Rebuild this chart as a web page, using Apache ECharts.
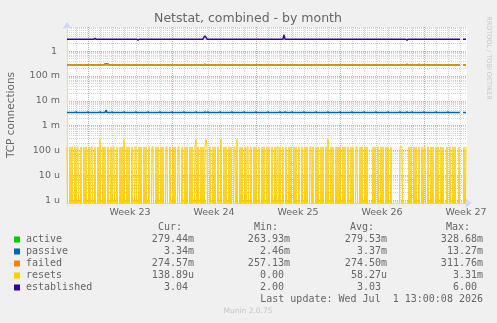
<!DOCTYPE html>
<html>
<head>
<meta charset="utf-8">
<script>
  // zrender drops polyline steps shorter than 2/dpr px, which eats the 1px bumps and the reset spikes.
  // raise the global ratio before echarts loads; the canvas itself is still created at ratio 1 below.
  window.devicePixelRatio = 8;
</script>
<script src="https://cdn.jsdelivr.net/npm/echarts@6/dist/echarts.min.js"></script>
<style>
html, body { margin: 0; padding: 0; background: #f0f0f0; }
#chart { width: 497px; height: 323px; }
</style>
</head>
<body>
<div id="chart"></div>
<script>
// x values are hours counted from monday 00:00 of week 23, one sample every 2 hours
var startHour = -42;
var stepHours = 2;
var endHour = 758;

var weekLabels = ['Week 23', 'Week 24', 'Week 25', 'Week 26', 'Week 27'];
var weekLabelHours = [84, 252, 420, 588, 756];
var weekStartHours = [0, 168, 336, 504, 672];

var yTickValues = [1e-6, 1e-5, 1e-4, 1e-3, 1e-2, 1e-1, 1];
var yTickLabels = ['1 u', '10 u', '100 u', '1 m', '10 m', '100 m', '1 '];

var seriesNames = ['active', 'passive', 'failed', 'resets', 'established'];
var seriesColors = ['#00cc00', '#0066b3', '#ff8000', '#ffcc00', '#330099'];
var curText = ['279.44m', '3.34m', '274.57m', '138.89u', '3.04 '];
var minText = ['263.93m', '2.46m', '257.13m', '0.00 ', '2.00 '];
var avgText = ['279.53m', '3.37m', '274.50m', '58.27u', '3.03 '];
var maxText = ['328.68m', '13.27m', '311.76m', '3.31m', '6.00 '];

// [hour, value] points ('-' = gap)
var activePoints = [[-42, 0.2794], [32, 0.2794], [34, 0.31], [40, 0.31], [42, 0.2794],
  [232, 0.2794], [234, 0.30], [236, 0.2794], [636, 0.2794], [638, 0.30], [640, 0.2794],
  [660, 0.2794], [662, 0.30], [664, 0.2794], [744, 0.2794], [746, '-'], [750, 0.2794], [756, 0.2794]];
var failedPoints = [[-42, 0.2746], [744, 0.2746], [746, '-'], [750, 0.2746], [756, 0.2746]];
var establishedPoints = [[-42, 3.04], [12, 3.04], [14, 3.3], [16, 3.04], [98, 3.04], [100, 2.75], [102, 3.04],
  [230, 3.04], [232, 3.7], [234, 4.1], [236, 3.6], [238, 3.04], [390, 3.04], [392, 4.5], [394, 3.04],
  [636, 3.04], [638, 2.75], [640, 3.04], [744, 3.04], [746, '-'], [750, 3.04], [756, 3.04]];

var passiveBase = 3.34e-3;
var passiveBumps = [[-24, 3.6e-3], [0, 3.6e-3], [24, 3.6e-3], [36, 4.2e-3], [48, 3.6e-3], [72, 3.6e-3],
  [96, 3.6e-3], [120, 3.6e-3], [144, 3.6e-3], [168, 3.6e-3], [192, 3.6e-3], [216, 3.6e-3],
  [234, 3.6e-3], [240, 3.6e-3], [264, 3.6e-3], [288, 3.6e-3], [312, 3.6e-3], [336, 3.6e-3],
  [360, 3.6e-3], [384, 3.6e-3], [394, 3.6e-3], [408, 3.6e-3], [432, 3.6e-3], [456, 3.6e-3],
  [480, 3.6e-3], [504, 3.6e-3], [528, 3.6e-3], [552, 3.6e-3], [576, 3.6e-3], [600, 3.6e-3],
  [624, 3.6e-3], [638, 3.6e-3], [648, 3.6e-3], [672, 3.6e-3], [696, 3.6e-3], [720, 3.6e-3]];

// resets per 2h slot, read column by column ('-' = no data)
var resetCounts = [
  '1001010010', '1100100101', '0010110010', '0102001010', '0100101100',
  '1001010200', '1010010011', '0010100101', '0010011001', '0100101001',
  '1001001010', '0110010010', '1001010012', '0100101012', '1001001010',
  '0100200101', '0010100110', '2001010010', '1100100101', '0010010100',
  '1010010010', '1101001001', '0010100101', '0010010010', '1001101001',
  '0100101001', '0200101001', '0101001010', '0100101001', '1001010010',
  '1000001010', '0100101001', '0100100000', '0001110000', '0010100101',
  '0010010110', '0100101001', '0100101000', '1001001010', '0010--0101'
].join('');
var resetLevels = { '0': 0, '1': 138.89e-6, '2': 277.78e-6 };

var yMin = 0.76e-6;
var yMax = 9.4;
var logFloor = 1e-9;   // zero drawn at the bottom like rrdtool

var passiveData = [[startHour, passiveBase]];
passiveBumps.forEach(function (b) {
  passiveData.push([b[0] - 2, passiveBase], [b[0], b[1]], [b[0] + 2, passiveBase]);
});
passiveData.push([744, passiveBase], [746, '-'], [750, passiveBase], [756, passiveBase]);

var resetsData = [];
for (var i = 0; i < resetCounts.length; i++) {
  var c = resetCounts[i];
  var v = c === '-' ? '-' : resetLevels[c];
  if (v === 0) v = logFloor;
  resetsData.push([startHour + i * stepHours, v]);
}

var dayHours = [];
for (var h = -24; h < endHour; h += 24) {
  if (weekStartHours.indexOf(h) < 0) dayHours.push(h);
}
var yMinorValues = [];
for (var d = 1e-7; d < 5; d *= 10) {
  for (var k = 2; k <= 9; k++) yMinorValues.push(d * k);
}

var axisColor = '#cfd6f8';
var fontColor = '#666';
var minorGrid = { show: true, lineStyle: { color: 'rgba(140,140,140,0.38)', width: 1, type: [1, 1] } };
var majorGrid = { show: true, lineStyle: { color: 'rgba(180,60,60,0.45)', width: 1, type: [1, 1] } };

var lineSeries = function (name, data, color, width, z) {
  return {
    name: name, type: 'line', data: data, showSymbol: false, symbol: 'none',
    lineStyle: { color: color, width: width }, itemStyle: { color: color },
    xAxisIndex: 0, yAxisIndex: 0, z: z, clip: true, animation: false, silent: true
  };
};

// legend block
var rowY = [239.5, 251.5, 263.5, 275.5, 287.5];
var mono = 'DejaVu Sans Mono';
var graphics = [
  { type: 'text', x: 248, y: 19, style: { text: 'Netstat, combined - by month', fill: fontColor, fontSize: 12.5, fontFamily: 'DejaVu Sans', align: 'center', verticalAlign: 'middle' } },
  { type: 'text', x: 11, y: 115, rotation: Math.PI / 2, style: { text: 'TCP connections', fill: fontColor, fontSize: 10.5, fontFamily: 'DejaVu Sans', align: 'center', verticalAlign: 'middle' } },
  { type: 'text', x: 489, y: 58, rotation: -Math.PI / 2, style: { text: 'RRDTOOL / TOBI OETIKER', fill: '#c8c8c8', fontSize: 6.5, fontFamily: 'DejaVu Sans', align: 'center', verticalAlign: 'middle' } },
  { type: 'text', x: 182, y: 227.5, style: { text: 'Cur:', fill: fontColor, fontSize: 10, fontFamily: mono, align: 'right', verticalAlign: 'middle' } },
  { type: 'text', x: 278, y: 227.5, style: { text: 'Min:', fill: fontColor, fontSize: 10, fontFamily: mono, align: 'right', verticalAlign: 'middle' } },
  { type: 'text', x: 374, y: 227.5, style: { text: 'Avg:', fill: fontColor, fontSize: 10, fontFamily: mono, align: 'right', verticalAlign: 'middle' } },
  { type: 'text', x: 470, y: 227.5, style: { text: 'Max:', fill: fontColor, fontSize: 10, fontFamily: mono, align: 'right', verticalAlign: 'middle' } },
  { type: 'text', x: 483, y: 299.5, style: { text: 'Last update: Wed Jul  1 13:00:08 2026', fill: fontColor, fontSize: 10, fontFamily: mono, align: 'right', verticalAlign: 'middle' } },
  { type: 'text', x: 248, y: 311.5, style: { text: 'Munin 2.0.75', fill: '#c4c4c4', fontSize: 7.5, fontFamily: 'DejaVu Sans', align: 'center', verticalAlign: 'middle' } }
];
seriesNames.forEach(function (name, r) {
  var y = rowY[r];
  graphics.push({ type: 'rect', shape: { x: 14, y: y - 3, width: 6, height: 6 }, style: { fill: seriesColors[r] } });
  graphics.push({ type: 'text', x: 26, y: y, style: { text: name, fill: fontColor, fontSize: 10, fontFamily: mono, align: 'left', verticalAlign: 'middle' } });
  [[194, curText], [290, minText], [387, avgText], [483, maxText]].forEach(function (col) {
    graphics.push({ type: 'text', x: col[0], y: y, style: { text: col[1][r], fill: fontColor, fontSize: 10, fontFamily: mono, align: 'right', verticalAlign: 'middle' } });
  });
});

var chart = echarts.init(document.getElementById('chart'), null, { devicePixelRatio: 1 });
chart.setOption({
  backgroundColor: '#f0f0f0',
  animation: false,
  grid: { left: 67, right: 30, top: 27, bottom: 120, show: true, backgroundColor: '#ffffff', borderWidth: 0 },
  xAxis: [
    {
      type: 'value', min: startHour, max: endHour,
      axisLine: { show: true, onZero: false, lineStyle: { color: axisColor, width: 1 }, symbol: ['none', 'arrow'], symbolSize: [7, 7], symbolOffset: [0, 5] },
      axisTick: { show: false, customValues: weekStartHours },
      splitLine: majorGrid,
      axisLabel: {
        customValues: weekLabelHours, margin: 5, color: fontColor, fontSize: 9.5, fontFamily: 'DejaVu Sans',
        formatter: function (v) { return weekLabels[weekLabelHours.indexOf(v)]; }
      }
    },
    {
      type: 'value', min: startHour, max: endHour, position: 'top',
      axisLine: { show: false, onZero: false }, axisLabel: { show: false },
      axisTick: { show: false, customValues: dayHours },
      splitLine: minorGrid
    }
  ],
  yAxis: [
    {
      type: 'log', logBase: 10, min: yMin, max: yMax,
      axisLine: { show: true, onZero: false, lineStyle: { color: axisColor, width: 1 }, symbol: ['none', 'arrow'], symbolSize: [7, 7], symbolOffset: [0, 5] },
      axisTick: { show: false, customValues: yTickValues },
      splitLine: majorGrid,
      axisLabel: {
        customValues: yTickValues, margin: 7, color: fontColor, fontSize: 9.5, fontFamily: 'DejaVu Sans',
        formatter: function (v) {
          for (var j = 0; j < yTickValues.length; j++) {
            if (Math.abs(Math.log10(v) - Math.log10(yTickValues[j])) < 0.01) return yTickLabels[j];
          }
          return '';
        }
      }
    },
    {
      type: 'log', logBase: 10, min: yMin, max: yMax, position: 'right',
      axisLine: { show: false, onZero: false }, axisLabel: { show: false },
      axisTick: { show: false, customValues: yMinorValues },
      splitLine: minorGrid
    }
  ],
  series: [
    lineSeries('active', activePoints, seriesColors[0], 1.5, 3),
    lineSeries('passive', passiveData, seriesColors[1], 1.5, 4),
    lineSeries('failed', failedPoints, seriesColors[2], 1.5, 5),
    lineSeries('resets', resetsData, seriesColors[3], 1, 6),
    lineSeries('established', establishedPoints, seriesColors[4], 1.5, 7)
  ],
  graphic: graphics
});
</script>
</body>
</html>
